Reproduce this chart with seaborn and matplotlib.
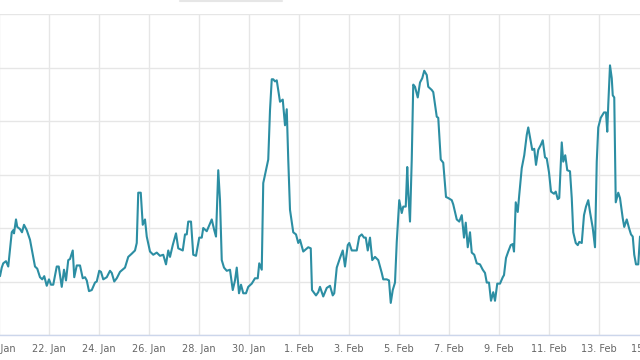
import pandas as pd
import matplotlib.pyplot as plt
import matplotlib.dates as mdates
from matplotlib.ticker import FuncFormatter, MultipleLocator
import seaborn as sns

# Values: time as days after 20 Jan, level in arbitrary units
start = "2019-01-20"
day_offset = [
    0.04, 0.11, 0.17, 0.28, 0.37, 0.51, 0.57, 0.60, 0.68, 0.73, 0.84, 0.92, 1.00, 1.11, 1.24, 1.37,
    1.44, 1.53, 1.64, 1.73, 1.81, 1.91, 2.00, 2.08, 2.17, 2.31, 2.39, 2.51, 2.60, 2.68, 2.77, 2.84,
    2.95, 3.01, 3.11, 3.24, 3.35, 3.44, 3.51, 3.60, 3.71, 3.84, 3.91, 4.01, 4.08, 4.17, 4.31, 4.44,
    4.51, 4.61, 4.71, 4.84, 5.04, 5.17, 5.31, 5.44, 5.51, 5.57, 5.67, 5.75, 5.84, 5.91, 6.04, 6.17,
    6.31, 6.44, 6.57, 6.68, 6.77, 6.84, 6.95, 7.08, 7.17, 7.35, 7.44, 7.51, 7.57, 7.68, 7.77, 7.88,
    8.01, 8.11, 8.17, 8.31, 8.51, 8.61, 8.68, 8.77, 8.84, 8.91, 9.00, 9.11, 9.24, 9.35, 9.44, 9.51,
    9.60, 9.68, 9.77, 9.88, 9.97, 10.11, 10.24, 10.35, 10.41, 10.51, 10.57, 10.68, 10.77, 10.84, 10.91, 10.97,
    11.04, 11.11, 11.24, 11.35, 11.44, 11.51, 11.57, 11.64, 11.77, 11.88, 11.97, 12.04, 12.17, 12.37, 12.47, 12.52,
    12.68, 12.77, 12.84, 12.97, 13.11, 13.24, 13.35, 13.41, 13.51, 13.64, 13.75, 13.84, 13.95, 14.01, 14.11, 14.31,
    14.41, 14.51, 14.60, 14.67, 14.75, 14.84, 14.93, 15.04, 15.17, 15.31, 15.37, 15.51, 15.60, 15.67, 15.75, 15.84,
    15.91, 16.01, 16.11, 16.17, 16.27, 16.33, 16.37, 16.44, 16.51, 16.57, 16.64, 16.75, 16.84, 16.93, 17.01, 17.11,
    17.17, 17.31, 17.37, 17.51, 17.57, 17.67, 17.77, 17.88, 17.97, 18.11, 18.17, 18.31, 18.41, 18.51, 18.60, 18.67,
    18.75, 18.84, 18.91, 19.01, 19.11, 19.24, 19.35, 19.44, 19.51, 19.60, 19.68, 19.77, 19.84, 19.93, 20.04, 20.15,
    20.20, 20.28, 20.37, 20.47, 20.55, 20.60, 20.67, 20.75, 20.81, 20.91, 21.01, 21.11, 21.17, 21.24, 21.33, 21.41,
    21.48, 21.57, 21.68, 21.75, 21.84, 21.91, 22.00, 22.08, 22.20, 22.27, 22.35, 22.41, 22.51, 22.57, 22.65, 22.73,
    22.84, 22.91, 22.97, 23.07, 23.15, 23.21, 23.31, 23.40, 23.48, 23.57, 23.64, 23.75, 23.84, 23.91, 23.97, 24.07,
    24.20, 24.28, 24.33, 24.37, 24.44, 24.51, 24.55, 24.61, 24.67, 24.77, 24.84, 24.95, 25.01, 25.11, 25.20, 25.28,
    25.35, 25.41, 25.48, 25.57, 25.64,
]
value = [
    55, 63, 67, 69, 64, 96, 98, 95, 108, 101, 99, 96, 103, 98, 89, 73,
    64, 62, 54, 52, 55, 46, 52, 47, 47, 64, 64, 45, 61, 51, 70, 71,
    79, 54, 65, 65, 53, 54, 51, 41, 42, 49, 50, 60, 59, 52, 54, 60,
    58, 50, 53, 59, 63, 73, 76, 79, 86, 133, 133, 103, 108, 92, 78, 75,
    77, 74, 75, 66, 79, 73, 84, 95, 81, 79, 94, 94, 106, 106, 75, 74,
    91, 91, 100, 97, 108, 98, 92, 154, 126, 70, 63, 60, 61, 42, 51, 63,
    39, 47, 39, 39, 45, 48, 53, 53, 67, 61, 142, 154, 164, 210, 239, 239,
    237, 238, 218, 220, 196, 211, 164, 117, 96, 94, 86, 89, 78, 82, 81, 42,
    37, 40, 45, 36, 44, 46, 37, 39, 63, 72, 79, 64, 84, 86, 79, 79,
    92, 94, 91, 91, 79, 91, 70, 73, 70, 58, 52, 52, 51, 30, 42, 49,
    87, 126, 114, 120, 120, 157, 133, 106, 164, 234, 232, 222, 236, 240, 247, 243,
    232, 229, 227, 204, 203, 164, 161, 129, 128, 126, 122, 108, 106, 112, 91, 105,
    82, 96, 77, 75, 67, 66, 61, 58, 49, 49, 32, 40, 32, 48, 48, 54,
    56, 72, 78, 84, 85, 78, 124, 115, 131, 156, 168, 187, 194, 185, 173, 174,
    159, 173, 178, 182, 166, 165, 152, 134, 132, 134, 127, 128, 180, 162, 168, 154,
    153, 128, 96, 86, 84, 87, 86, 112, 120, 126, 115, 100, 82, 162, 194, 203,
    208, 208, 190, 215, 252, 240, 224, 222, 124, 133, 128, 109, 101, 108, 100, 94,
    92, 75, 66, 66, 92,
]

df = pd.DataFrame({
    "time": pd.Timestamp(start) + pd.to_timedelta(day_offset, unit="D"),
    "value": value,
})

sns.set_style("white")
plt.rcParams["font.family"] = ["DejaVu Sans"]

fig = plt.figure(figsize=(6.4, 3.6), dpi=100)
# plot area runs past both figure edges, like the cropped original
ax = fig.add_axes([-1 / 640, 25 / 360, 650 / 640, 321 / 360])

sns.lineplot(data=df, x="time", y="value", ax=ax, color="#2c8ea3", linewidth=1.5)

ax.set_xlim(pd.Timestamp("2019-01-20"), pd.Timestamp("2019-02-15"))
ax.set_ylim(0, 300)
ax.yaxis.set_major_locator(MultipleLocator(50))
ax.xaxis.set_major_locator(mdates.DayLocator(interval=2))
ax.xaxis.set_major_formatter(
    FuncFormatter(lambda x, pos: f"{mdates.num2date(x).day}. {mdates.num2date(x).strftime('%b')}"))

ax.grid(True, color="#e6e6e6", linewidth=1)
ax.set_axisbelow(True)
for side in ["top", "left", "right"]:
    ax.spines[side].set_visible(False)
ax.spines["bottom"].set_color("#ccd6eb")
ax.spines["bottom"].set_linewidth(1)
ax.tick_params(axis="x", length=5, width=1, color="#ccd6eb", pad=1.5, labelsize=7, labelcolor="#666666")
ax.tick_params(axis="y", left=False, labelleft=False)
ax.set_xlabel("")
ax.set_ylabel("")

# edge of a cropped box at the top
fig.add_artist(plt.Line2D([180 / 640, 282 / 640], [359.5 / 360, 359.5 / 360], color="#e6e6e6", linewidth=1.5))

fig.savefig("out.png", dpi=100)
